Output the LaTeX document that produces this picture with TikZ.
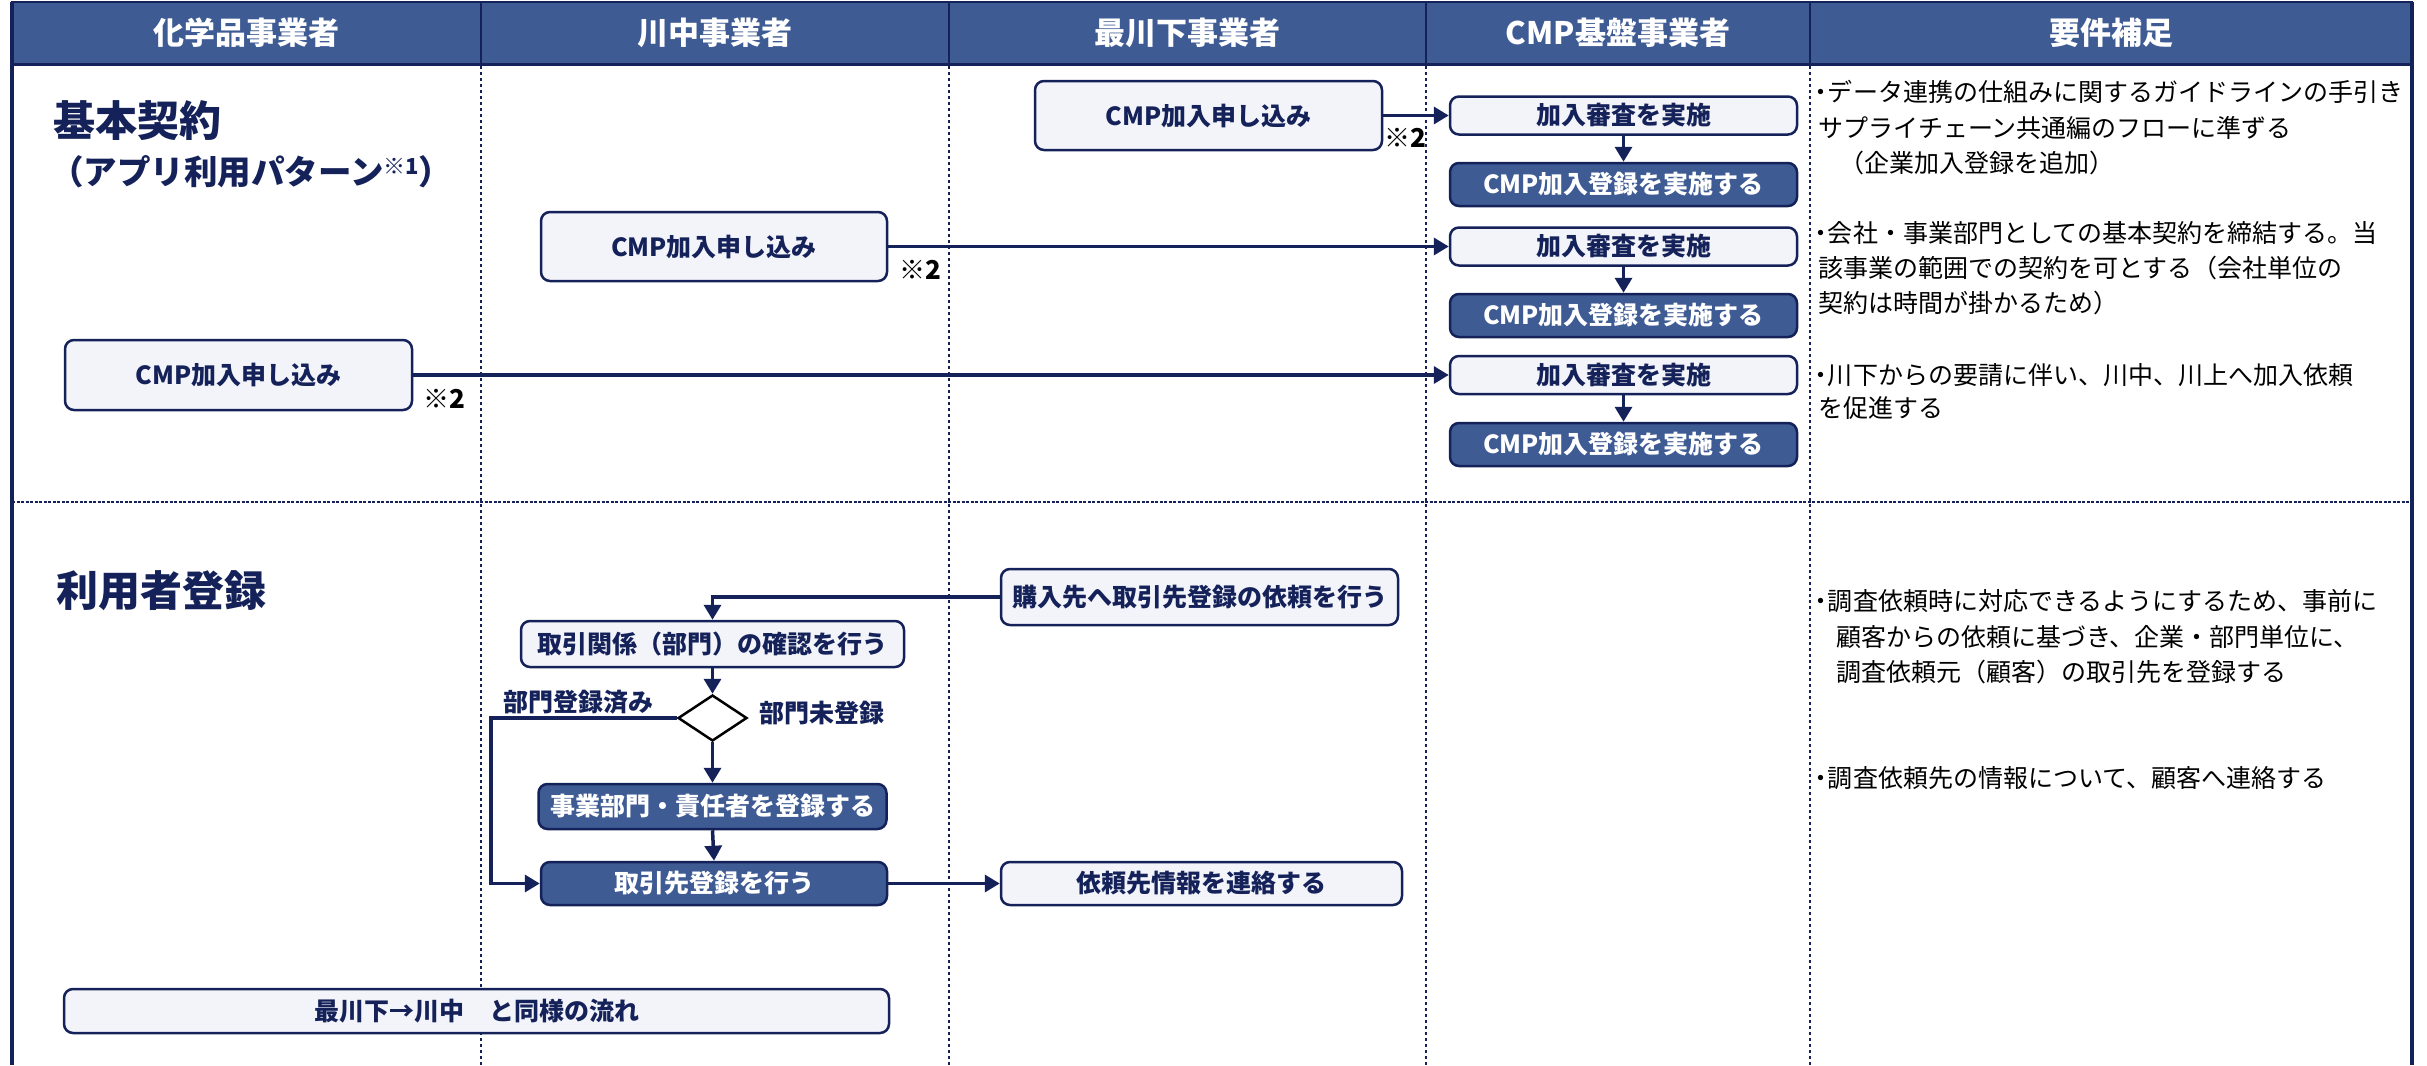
\documentclass[tikz,border=0pt]{standalone}
\usepackage{fontspec}
\setmainfont{Noto Sans CJK JP}
\usetikzlibrary{arrows.meta,shapes.geometric}
\definecolor{navy}{HTML}{15225A}
\definecolor{hdr}{HTML}{3F5B94}
\definecolor{lightbox}{HTML}{F2F4FA}
\newcommand\fBox{\bfseries\fontsize{25}{30}\selectfont}
\newcommand\fDesc{\fontsize{25}{30}\selectfont}
\newcommand\fHdr{\bfseries\fontsize{31}{36}\selectfont}
\newcommand\fTitle{\bfseries\fontsize{42}{48}\selectfont}
\newcommand\fSub{\bfseries\fontsize{33.5}{38}\selectfont}
\newcommand\fNote{\bfseries\fontsize{26}{30}\selectfont}
\newcommand\bul{\makebox[0.55em][c]{・}}
\tikzset{
  lbox/.style={draw=navy, line width=2.5pt, fill=lightbox, rounded corners=9pt, text=navy, font=\fBox, inner sep=0pt},
  dbox/.style={lbox, fill=hdr, text=white},
  flow/.style={draw=navy, line width=3.5pt, -{Triangle[length=15pt,width=17pt]}},
  desc/.style={anchor=west, inner sep=0pt, font=\fDesc, text=black},
  hdrtxt/.style={text=white, font=\fHdr, inner sep=0pt},
  lane/.style={draw=navy, line width=2pt, dash pattern=on 3pt off 3pt},
  note/.style={font=\fNote, text=black, inner sep=0pt},
  lbl/.style={font=\fBox, text=navy, inner sep=0pt},
  ttl/.style={anchor=west, font=\fTitle, text=navy, inner sep=0pt},
}
\begin{document}
\begin{tikzpicture}[x=1pt,y=-1pt]
\useasboundingbox (0,0) rectangle (2427,1065);
\fill[white] (0,0) rectangle (2427,1065);
% header
\fill[hdr] (12,2) rectangle (2412,65);
\draw[navy, line width=2pt] (12,2) rectangle (2412,65);
\foreach \xx in {481,949,1426,1810} \draw[navy, line width=2pt] (\xx,2) -- (\xx,65);
\draw[navy, line width=3pt] (12,65) -- (2412,65);
% lanes
\foreach \xx in {481,949,1426,1810} \draw[lane] (\xx,66) -- (\xx,1065);
\draw[navy, line width=2pt, dash pattern=on 3pt off 1.5pt] (12,502) -- (2412,502);
\draw[navy, line width=3.5pt] (12,2) -- (12,1065);
\draw[navy, line width=3.5pt] (2412,2) -- (2412,1065);
% header texts
\node[hdrtxt] (h1) at (246.5,33) {化学品事業者};
\node[hdrtxt] (h2) at (715,33) {川中事業者};
\node[hdrtxt] (h3) at (1187.5,33) {最川下事業者};
\node[hdrtxt] (h4) at (1618,33) {CMP基盤事業者};
\node[hdrtxt] (h5) at (2111,33) {要件補足};
% section titles
\node[ttl] (t1) at (53,121) {基本契約};
\node[ttl, font=\fSub] (t2) at (50,172) {（アプリ利用パターン\raisebox{10pt}{\fontsize{22}{22}\selectfont ※1}）};
\node[ttl] (t3) at (56,591) {利用者登録};
% contract boxes
\node[lbox, minimum width=347pt, minimum height=69pt] (apC) at (1208.5,115.5) {CMP加入申し込み};
\node[lbox, minimum width=346pt, minimum height=69pt] (apB) at (714,246.5) {CMP加入申し込み};
\node[lbox, minimum width=347pt, minimum height=70pt] (apA) at (238.5,375) {CMP加入申し込み};
\node[note] (n1) at (1405,138) {※2};
\node[note] (n2) at (920,270) {※2};
\node[note] (n3) at (444,399) {※2};
\node[lbox, minimum width=347pt, minimum height=38pt] (rv1) at (1623.5,115.5) {加入審査を実施};
\node[dbox, minimum width=347pt, minimum height=43pt] (rg1) at (1623.5,184.5) {CMP加入登録を実施する};
\node[lbox, minimum width=347pt, minimum height=38pt] (rv2) at (1623.5,246.5) {加入審査を実施};
\node[dbox, minimum width=347pt, minimum height=43pt] (rg2) at (1623.5,315.5) {CMP加入登録を実施する};
\node[lbox, minimum width=347pt, minimum height=38pt] (rv3) at (1623.5,375) {加入審査を実施};
\node[dbox, minimum width=347pt, minimum height=43pt] (rg3) at (1623.5,444.5) {CMP加入登録を実施する};
\draw[flow] (apC.east) -- (rv1.west);
\draw[flow] (apB.east) -- (rv2.west);
\draw[flow] (apA.east) -- (rv3.west);
\draw[flow] (rv1.south) -- (rg1.north);
\draw[flow] (rv2.south) -- (rg2.north);
\draw[flow] (rv3.south) -- (rg3.north);
% user registration
\node[lbox, minimum width=397pt, minimum height=56pt] (kr) at (1199.5,597) {購入先へ取引先登録の依頼を行う};
\node[lbox, minimum width=383pt, minimum height=46pt] (tk) at (712.5,644) {取引関係（部門）の確認を行う};
\node[diamond, draw=black, line width=2.5pt, fill=white, minimum width=69pt, minimum height=46pt, inner sep=0pt] (dia) at (712.5,718) {};
\node[lbl] (l1) at (578,702) {部門登録済み};
\node[lbl] (l2) at (822,713) {部門未登録};
\node[dbox, minimum width=348pt, minimum height=45pt] (jb) at (712.5,806.5) {事業部門・責任者を登録する};
\node[dbox, minimum width=346pt, minimum height=43pt] (ts) at (714,883.5) {取引先登録を行う};
\node[lbox, minimum width=401pt, minimum height=43pt] (ir) at (1201.5,883.5) {依頼先情報を連絡する};
\node[lbox, minimum width=825pt, minimum height=44pt] (same) at (476.5,1011) {最川下→川中　と同様の流れ};
\coordinate (lb) at (491,718);
\draw[flow] (kr.west) -| (tk.north);
\draw[flow] (tk.south) -- (dia.north);
\draw[flow] (dia.south) -- (jb.north);
\draw[flow] (jb.south) -- (ts.north);
\draw[flow] (dia.west) -- (lb) |- (ts.west);
\draw[flow] (ts.east) -- (ir.west);
% descriptions
\node[desc] (d1a) at (1814,92) {\bul データ連携の仕組みに関するガイドラインの手引き};
\node[desc] (d1b) at (1818,128) {サプライチェーン共通編のフローに準ずる};
\node[desc] (d1c) at (1839,163) {（企業加入登録を追加）};
\node[desc] (d2a) at (1814,233) {\bul 会社・事業部門としての基本契約を締結する。当};
\node[desc] (d2b) at (1818,268) {該事業の範囲での契約を可とする（会社単位の};
\node[desc] (d2c) at (1818,303) {契約は時間が掛かるため）};
\node[desc] (d3a) at (1814,375) {\bul 川下からの要請に伴い、川中、川上へ加入依頼};
\node[desc] (d3b) at (1818,408) {を促進する};
\node[desc] (d4a) at (1814,601) {\bul 調査依頼時に対応できるようにするため、事前に};
\node[desc] (d4b) at (1836,637) {顧客からの依頼に基づき、企業・部門単位に、};
\node[desc] (d4c) at (1836,672) {調査依頼元（顧客）の取引先を登録する};
\node[desc] (d5) at (1814,778) {\bul 調査依頼先の情報について、顧客へ連絡する};
\end{tikzpicture}
\end{document}
